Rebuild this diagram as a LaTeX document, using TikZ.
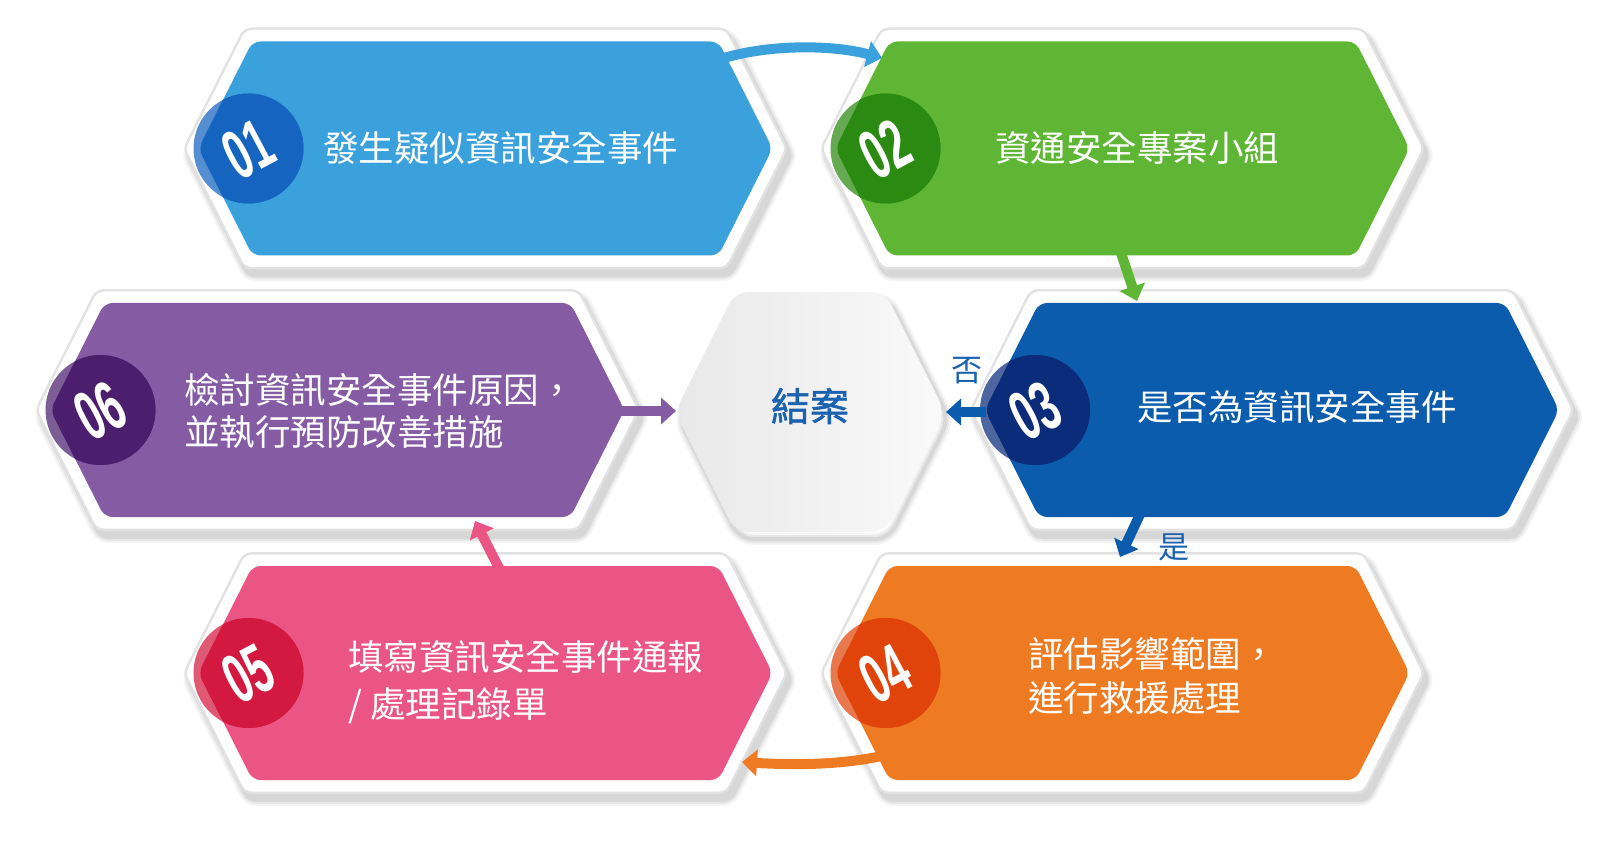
\documentclass[tikz,border=0pt]{standalone}
\usepackage{fontspec}
\newfontfamily\cjk{Noto Sans CJK TC}
\newfontfamily\cjkb{Noto Sans CJK TC}[FakeBold=1.5]
\newfontfamily\digitf{Liberation Sans}[FakeStretch=0.58]
\usetikzlibrary{arrows.meta}
\definecolor{cA}{HTML}{3BA1DC}\definecolor{cAd}{HTML}{1565C0}
\definecolor{cB}{HTML}{5EB634}\definecolor{cBd}{HTML}{2A8A12}
\definecolor{cC}{HTML}{0B5CAD}\definecolor{cCd}{HTML}{0B2C7A}
\definecolor{cD}{HTML}{EE7B22}\definecolor{cDd}{HTML}{E0440A}
\definecolor{cE}{HTML}{EA5585}\definecolor{cEd}{HTML}{D3193F}
\definecolor{cF}{HTML}{855BA3}\definecolor{cFd}{HTML}{4B1F6E}
\definecolor{lblue}{HTML}{1B62B0}
\definecolor{rim}{HTML}{E2E2E2}
\newcommand\hexpath[5]{(#1-#3,#2) -- (#1-#3+#5,#2-#4) -- (#1+#3-#5,#2-#4) -- (#1+#3,#2) -- (#1+#3-#5,#2+#4) -- (#1-#3+#5,#2+#4) -- cycle}
\tikzset{
  txt/.style={text=white, inner sep=0pt, font=\cjk\fontsize{35.5}{44}\selectfont},
  digit/.style={text=white, inner sep=0pt, rotate=28, font=\digitf\bfseries\fontsize{70}{70}\selectfont},
  arr/.style={line width=10pt, -{Triangle[width=26pt,length=15pt]}},
  lbl/.style={text=lblue, inner sep=0pt, font=\cjk\fontsize{31}{31}\selectfont},
  shad/.style={line join=round, draw=black},
}
% name, cx, cy, fill, dark, digits
\newcommand\stephex[6]{%
  \foreach \w/\o in {38/0.04,34/0.05,30/0.07}{
    \draw[shad, line width=\w pt, draw opacity=\o, shift={(4,7)}] \hexpath{#2}{#3}{287}{107}{54};
  }
  \draw[line join=round, line width=28pt, draw=rim, fill=white] \hexpath{#2}{#3}{287}{107}{54};
  \draw[line join=round, line width=23pt, draw=white] \hexpath{#2}{#3}{287}{107}{54};
  \fill[#4, rounded corners=8pt] \hexpath{#2}{#3}{287}{107}{54};
  \fill[#5, opacity=0.72] (#2-287+50,#3) circle (55);
  \begin{scope}
    \clip[rounded corners=8pt] \hexpath{#2}{#3}{287}{107}{54};
    \fill[#5] (#2-287+50,#3) circle (55);
  \end{scope}
  \node[digit] (#1) at (#2-287+50,#3+1) {#6};
}
\begin{document}
\begin{tikzpicture}[x=1pt,y=-1pt]
\useasboundingbox (0,0) rectangle (1620,858);
\fill[white] (0,0) rectangle (1620,858);

\stephex{d1}{485.5}{148.5}{cA}{cAd}{01}
\stephex{d2}{1122.5}{148.5}{cB}{cBd}{02}
\stephex{d6}{337.5}{410}{cF}{cFd}{06}
\stephex{d3}{1272}{410}{cC}{cCd}{03}
\stephex{d5}{485.5}{673}{cE}{cEd}{05}
\stephex{d4}{1122.5}{673}{cD}{cDd}{04}

% end hexagon
\foreach \w/\o in {12/0.04,8/0.05,4/0.07}{
  \draw[shad, line width=\w pt, draw opacity=\o, shift={(4,7)}, rounded corners=14pt] \hexpath{810}{412}{135}{120}{60};
}
\shade[left color=black!9, right color=black!2, rounded corners=14pt] \hexpath{810}{412}{135}{120}{60};
\node[text=lblue, inner sep=0pt, font=\cjkb\fontsize{39}{39}\selectfont] (end) at (810,406) {結案};

% texts
\node[txt, anchor=west] (t1) at (323,148) {發生疑似資訊安全事件};
\node[txt, anchor=west] (t2) at (995,148) {資通安全專案小組};
\node[txt, anchor=west] (t3) at (1137,407) {是否為資訊安全事件};
\node[txt, anchor=west, align=left, font=\cjk\fontsize{35.5}{42}\selectfont] (t6) at (184,411) {檢討資訊安全事件原因，\\並執行預防改善措施};
\node[txt, anchor=west, align=left, font=\cjk\fontsize{35.5}{47}\selectfont] (t5) at (348,682) {填寫資訊安全事件通報\\/ 處理記錄單};
\node[txt, anchor=west, align=left, font=\cjk\fontsize{35.5}{44}\selectfont] (t4) at (1028,676) {評估影響範圍，\\進行救援處理};

% connectors
\coordinate (a1s) at (712,62);  \coordinate (a1e) at (882,58);
\coordinate (a2s) at (1120,250); \coordinate (a2e) at (1137,301);
\coordinate (a3s) at (986,412);  \coordinate (a3e) at (946,412);
\coordinate (a4s) at (1143,508); \coordinate (a4e) at (1120,557);
\coordinate (a5s) at (897,752);  \coordinate (a5e) at (742,762);
\coordinate (a6s) at (502,574);  \coordinate (a6e) at (475,521);
\coordinate (a7s) at (616,411);  \coordinate (a7e) at (676,411);

\draw[arr, cA] (a1s) .. controls (760,44) and (830,44) .. (a1e);
\draw[arr, cB] (a2s) -- (a2e);
\draw[arr, cC] (a3s) -- (a3e);
\draw[arr, cC] (a4s) -- (a4e);
\draw[arr, cD] (a5s) .. controls (850,766) and (790,765) .. (a5e);
\draw[arr, cE] (a6s) -- (a6e);
\draw[arr, cF] (a7s) -- (a7e);

\node[lbl] (no) at (967,371) {否};
\node[lbl] (yes) at (1174,547) {是};
\end{tikzpicture}
\end{document}
